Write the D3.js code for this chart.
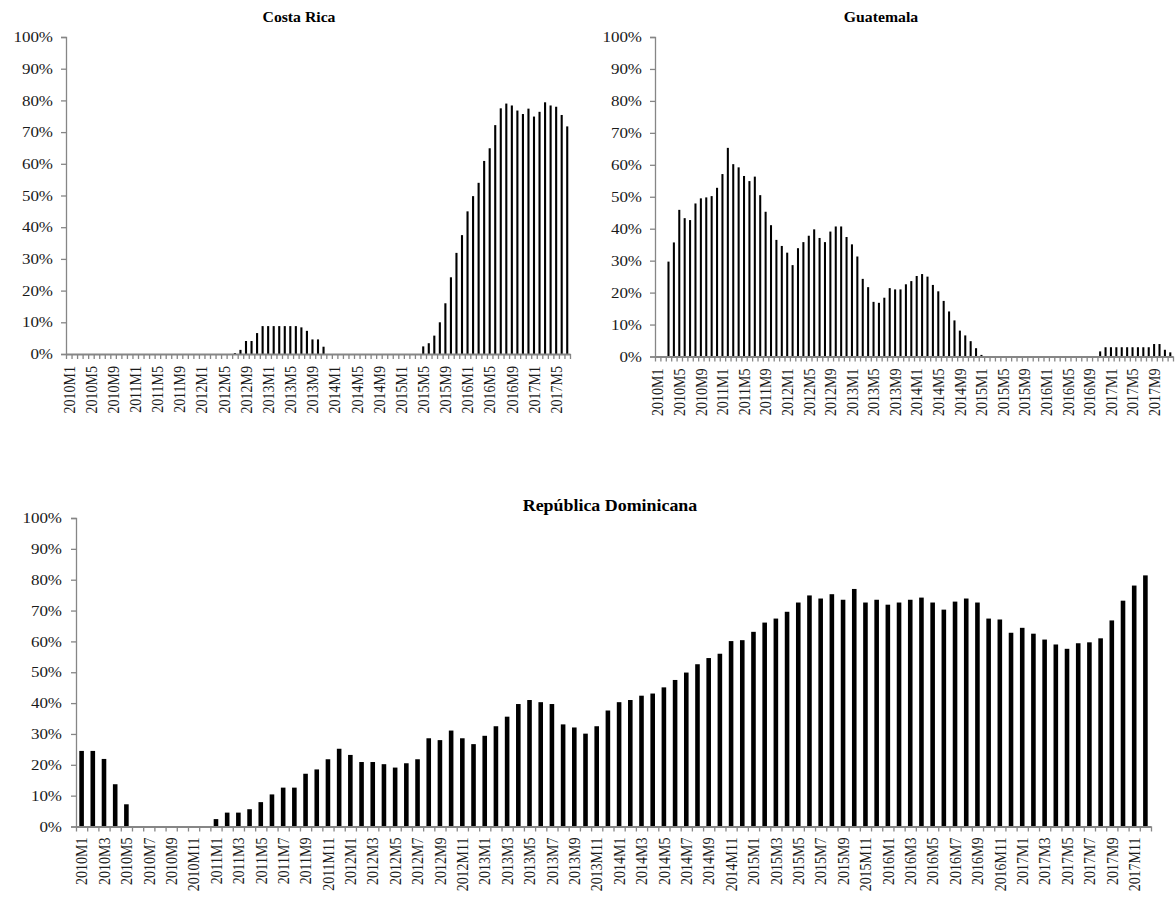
<!DOCTYPE html>
<html>
<head>
<meta charset="utf-8">
<script src="https://cdn.jsdelivr.net/npm/d3@7"></script>
<style>
  body { margin: 0; background: #fff; }
  svg { display: block; }
  text { font-family: "Liberation Serif", "Times New Roman", serif; }
</style>
</head>
<body>
<svg id="chart" width="1175" height="907"></svg>
<script>
// Monthly shares (%), one value per month starting 2010M1
const costaRicaValues = [
  0, 0, 0, 0, 0, 0, 0, 0, 0, 0, 0, 0,
  0, 0, 0, 0, 0, 0, 0, 0, 0, 0, 0, 0,
  0, 0, 0, 0, 0, 0, 0.3, 1.3, 4.1, 4.1, 6.6, 8.8,
  8.8, 8.8, 8.8, 8.8, 8.8, 8.8, 8.4, 7.3, 4.6, 4.6, 2.3, 0,
  0, 0, 0, 0, 0, 0, 0, 0, 0, 0, 0, 0,
  0, 0, 0, 0, 2.4, 3.4, 5.8, 10, 16, 24.2, 31.9, 37.5,
  45, 49.8, 54, 60.9, 64.9, 72.2, 77.5, 79, 78.4, 76.8, 75.7, 77.4,
  74.9, 76.4, 79.4, 78.4, 78, 75.4, 71.8
];

const guatemalaValues = [
  0, 0, 29.7, 35.7, 45.9, 43.3, 42.7, 47.9, 49.5, 49.8, 50.2, 52.8,
  57.1, 65.3, 60.2, 59.2, 56.5, 54.9, 56.3, 50.5, 45.3, 41.1, 36.5, 34.6,
  32.5, 28.6, 33.9, 35.8, 37.8, 39.8, 37.1, 35.8, 39.1, 40.7, 40.7, 37.4,
  35.1, 31.3, 24.3, 21.7, 17.1, 16.8, 18.4, 21.4, 21.0, 21.0, 22.6, 23.6,
  25.2, 25.8, 25.0, 22.4, 20.4, 17.4, 14.1, 11.3, 8.1, 6.6, 4.8, 2.6,
  0.5, 0, 0, 0, 0, 0, 0, 0, 0, 0, 0, 0,
  0, 0, 0, 0, 0, 0, 0, 0, 0, 0, 1.6, 2.9,
  2.9, 2.9, 2.9, 2.9, 2.9, 2.9, 2.9, 2.9, 3.9, 3.9, 2.1, 1.3
];

const dominicanaValues = [
  24.5, 24.5, 21.9, 13.7, 7.2, 0, 0, 0, 0, 0, 0, 0,
  2.4, 4.5, 4.5, 5.6, 7.9, 10.4, 12.6, 12.6, 17.1, 18.5, 21.8, 25.2,
  23.2, 20.9, 20.9, 20.2, 19.1, 20.5, 21.8, 28.6, 28.0, 31.1, 28.6, 26.7,
  29.4, 32.5, 35.6, 39.7, 41.0, 40.3, 39.7, 33.1, 32.1, 30.1, 32.5, 37.6,
  40.3, 41.0, 42.4, 43.1, 45.1, 47.5, 49.9, 52.6, 54.6, 56.0, 60.1, 60.4,
  63.1, 66.1, 67.4, 69.6, 72.6, 74.9, 73.9, 75.3, 73.5, 77.0, 72.6, 73.5,
  71.9, 72.6, 73.5, 74.2, 72.6, 70.3, 72.9, 73.9, 72.6, 67.4, 67.1, 62.8,
  64.4, 62.5, 60.6, 59.0, 57.6, 59.4, 59.7, 61.0, 66.8, 73.2, 78.1, 81.4
];

const yTicks = [0, 10, 20, 30, 40, 50, 60, 70, 80, 90, 100];
const startYear = 2010;

// Category names: 2010M1, 2010M2, ...
function monthNames(count) {
  return d3.range(count).map(i => `${startYear + Math.floor(i / 12)}M${(i % 12) + 1}`);
}

const svg = d3.select("#chart");
const axisColor = "#868686";
const labelColor = "#1a1a1a";
const textStretch = 1.17;   // wide serif lettering

function drawPanel(cfg) {
  const cats = monthNames(cfg.values.length);
  const g = svg.append("g");

  const x = d3.scaleBand().domain(cats).range([cfg.left, cfg.right]).padding(0);
  const y = d3.scaleLinear().domain([0, 100]).range([cfg.bottom, cfg.top]);
  const bw = x.bandwidth();
  const barW = bw * cfg.barFrac;

  // Bars
  g.append("g")
    .selectAll("rect")
    .data(cfg.values.map((v, i) => ({ cat: cats[i], v })))
    .join("rect")
    .attr("x", d => x(d.cat) + (bw - barW) / 2)
    .attr("width", barW)
    .attr("y", d => y(d.v))
    .attr("height", d => y(0) - y(d.v))
    .attr("fill", "#000");

  // Y axis
  const yAxis = g.append("g")
    .attr("transform", `translate(${cfg.left},0)`)
    .call(d3.axisLeft(y).tickValues(yTicks).tickSize(5).tickSizeOuter(5).tickPadding(0)
      .tickFormat(d => d + "%"));
  yAxis.select(".domain").attr("stroke", axisColor).attr("stroke-width", 1.3);
  yAxis.selectAll(".tick line").attr("stroke", axisColor).attr("stroke-width", 1.3);
  yAxis.selectAll("text")
    .attr("font-size", cfg.yFont)
    .attr("fill", labelColor)
    .attr("x", null)
    .attr("transform", `translate(${-cfg.yGap},0) scale(${textStretch},1)`);

  // X tick marks at category boundaries
  const xb = d3.scaleLinear().domain([0, cats.length]).range([cfg.left, cfg.right]);
  const tickAxis = g.append("g")
    .attr("transform", `translate(0,${cfg.bottom})`)
    .call(d3.axisBottom(xb).tickValues(d3.range(cats.length + 1)).tickSize(5).tickSizeOuter(0)
      .tickFormat(""));
  tickAxis.select(".domain").attr("stroke", axisColor).attr("stroke-width", 2);
  tickAxis.selectAll(".tick line").attr("stroke", axisColor).attr("stroke-width", 1.3);

  // X labels, rotated
  const labelAxis = g.append("g")
    .attr("transform", `translate(0,${cfg.bottom})`)
    .call(d3.axisBottom(x).tickValues(cats.filter((c, i) => i % cfg.labelStep === 0)).tickSize(0));
  labelAxis.select(".domain").remove();
  labelAxis.selectAll("text")
    .attr("font-size", cfg.xFont)
    .attr("fill", labelColor)
    .attr("transform", `rotate(-90) scale(1,${textStretch})`)
    .attr("text-anchor", "end")
    .attr("x", -cfg.xGap)
    .attr("y", 0)
    .attr("dy", "0.35em");

  // Title
  svg.append("text")
    .attr("transform", `translate(${cfg.titleX},${cfg.titleY}) scale(${cfg.titleStretch},1)`)
    .attr("text-anchor", "middle")
    .attr("font-weight", "bold")
    .attr("font-size", cfg.titleFont)
    .attr("fill", "#000")
    .text(cfg.title);
}

drawPanel({
  title: "Costa Rica", titleX: 299, titleY: 22, titleFont: 15, titleStretch: 1.05,
  values: costaRicaValues, left: 66, right: 570, top: 37, bottom: 354,
  labelStep: 4, barFrac: 0.38, xFont: 14, yFont: 14.5, xGap: 12, yGap: 13
});

drawPanel({
  title: "Guatemala", titleX: 881, titleY: 22, titleFont: 15, titleStretch: 1.05,
  values: guatemalaValues, left: 655, right: 1173, top: 37, bottom: 356.5,
  labelStep: 4, barFrac: 0.38, xFont: 14, yFont: 14.5, xGap: 12, yGap: 13
});

drawPanel({
  title: "República Dominicana", titleX: 610, titleY: 511, titleFont: 16, titleStretch: 1.12,
  values: dominicanaValues, left: 76, right: 1151, top: 518, bottom: 826.5,
  labelStep: 2, barFrac: 0.41, xFont: 14, yFont: 14.5, xGap: 11, yGap: 14
});
</script>
</body>
</html>
